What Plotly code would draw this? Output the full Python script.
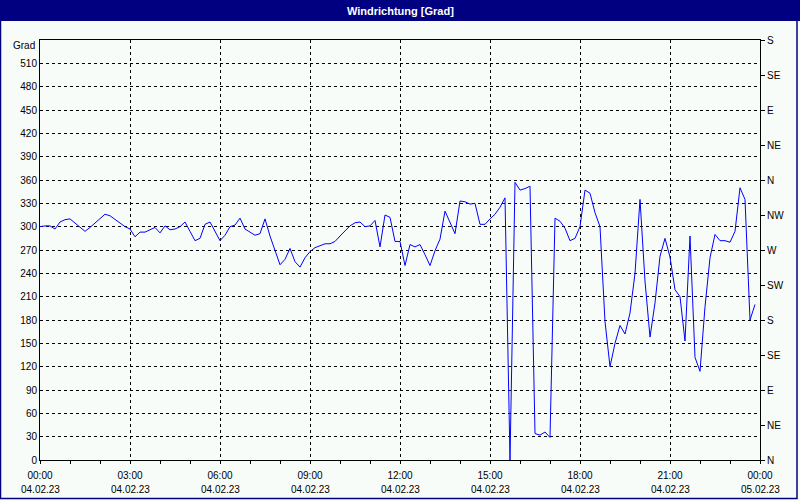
import plotly.graph_objects as go

# ---- data (10-minute readings, 04.02.23 00:00 .. 23:50) ----
direction_deg = [
    300, 301, 301, 297, 306, 309, 310, 305, 299, 294, 299, 305,
    311, 316, 314, 309, 305, 300, 297, 287, 293, 293, 296, 299,
    292, 301, 296, 297, 300, 306, 294, 282, 285, 303, 306, 294,
    282, 289, 300, 302, 311, 297, 293, 289, 291, 310, 288, 270,
    251, 258, 272, 255, 248, 260, 268, 273, 276, 278, 278, 281,
    288, 295, 301, 305, 306, 300, 301, 308, 274, 315, 312, 281,
    281, 250, 277, 274, 277, 264, 250, 269, 284, 320, 305, 291,
    333, 332, 329, 330, 303, 303, 310, 316, 325, 337, 0, 357,
    347, 349, 352, 34, 32, 36, 29, 311, 307, 298, 282, 285,
    300, 347, 343, 318, 300, 178, 120, 150, 173, 162, 189, 240,
    335, 230, 158, 202, 262, 285, 261, 219, 210, 153, 288, 132,
    114, 197, 260, 290, 282, 282, 280, 294, 350, 335, 180, 200,
]
interval_min = 10
minutes = [i * interval_min for i in range(len(direction_deg))]

x_tick_minutes = [0, 180, 360, 540, 720, 900, 1080, 1260, 1440]
x_tick_times = ["00:00", "03:00", "06:00", "09:00", "12:00", "15:00", "18:00", "21:00", "00:00"]
x_tick_dates = ["04.02.23"] * 8 + ["05.02.23"]

y_left_ticks = list(range(0, 540, 30))
y_right_ticks = list(range(0, 541, 45))
y_right_labels = ["N", "NE", "E", "SE", "S", "SW", "W", "NW", "N", "NE", "E", "SE", "S"]

title_text = "Windrichtung [Grad]"
unit_label = "Grad"

# ---- figure ----
W, H = 800, 500
ML, MR, MT, MB = 40, 40, 40, 40
BG = "#F8FCF8"
NAVY = "#000080"
FONT = "Liberation Sans, Arial, sans-serif"

def px_x(px):
    return (px - ML) / (W - ML - MR)

def px_y(py):
    return (H - MB - py) / (H - MT - MB)

fig = go.Figure()
fig.add_trace(go.Scatter(
    x=minutes, y=direction_deg, mode="lines",
    line=dict(color="#0000FF", width=1), showlegend=False, hoverinfo="skip",
))
fig.add_trace(go.Scatter(
    x=minutes, y=direction_deg, mode="lines", yaxis="y2",
    line=dict(color="rgba(0,0,0,0)", width=0), showlegend=False, hoverinfo="skip",
))

date_annotations = [
    dict(text=d, xref="x", yref="paper", x=m, y=px_y(489),
         xanchor="center", yanchor="middle", showarrow=False,
         font=dict(family=FONT, size=10, color="black"))
    for m, d in zip(x_tick_minutes, x_tick_dates)
]

fig.update_layout(
    width=W, height=H,
    margin=dict(l=ML, r=MR, t=MT, b=MB, autoexpand=False),
    paper_bgcolor=BG, plot_bgcolor=BG,
    font=dict(family=FONT, size=10, color="black"),
    xaxis=dict(
        range=[0, 1440], automargin=False,
        tickmode="array", tickvals=x_tick_minutes, ticktext=x_tick_times,
        ticks="outside", ticklen=3, tickcolor="black", ticklabelstandoff=3,
        minor=dict(tick0=0, dtick=60, ticks="outside", ticklen=3, tickcolor="black", showgrid=False),
        showgrid=True, gridcolor="black", gridwidth=1, griddash="3px,3px",
        showline=True, linecolor="black", linewidth=1, mirror=True,
        zeroline=False, fixedrange=True,
    ),
    yaxis=dict(
        range=[0, 540], automargin=False,
        tickmode="array", tickvals=y_left_ticks,
        ticktext=[str(v) for v in y_left_ticks],
        ticks="", showgrid=True, gridcolor="black", gridwidth=1, griddash="3px,3px",
        showline=True, linecolor="black", linewidth=1, mirror=True,
        zeroline=False, fixedrange=True,
    ),
    yaxis2=dict(
        range=[0, 540], overlaying="y", side="right", automargin=False,
        tickmode="array", tickvals=y_right_ticks, ticktext=y_right_labels,
        ticks="outside", ticklen=4, tickcolor="black",
        showgrid=False, zeroline=False, showline=False, fixedrange=True,
    ),
    shapes=[
        dict(type="rect", xref="paper", yref="paper",
             x0=px_x(0), x1=px_x(800), y0=px_y(21), y1=px_y(0),
             fillcolor=NAVY, line=dict(width=0), layer="above"),
        dict(type="rect", xref="paper", yref="paper",
             x0=px_x(0.5), x1=px_x(797), y0=px_y(498.5), y1=px_y(20),
             fillcolor="rgba(0,0,0,0)", line=dict(color=NAVY, width=1.5), layer="above"),
    ],
    annotations=[
        dict(text=f"<b>{title_text}</b>", xref="paper", yref="paper",
             x=0.5, y=px_y(10.5), xanchor="center", yanchor="middle",
             showarrow=False, font=dict(family="Liberation Sans Narrow, Arial Narrow, Liberation Sans", size=11, color="white")),
        dict(text=unit_label, xref="paper", yref="y", x=0, y=533,
             xanchor="right", yanchor="middle", xshift=-3, showarrow=False,
             font=dict(family=FONT, size=10, color="black")),
    ] + date_annotations,
)

fig.write_html(
    "out.html",
    config={"displayModeBar": False},
    post_script="document.body.style.margin='0';document.body.style.padding='0';document.body.style.overflow='hidden';",
)
